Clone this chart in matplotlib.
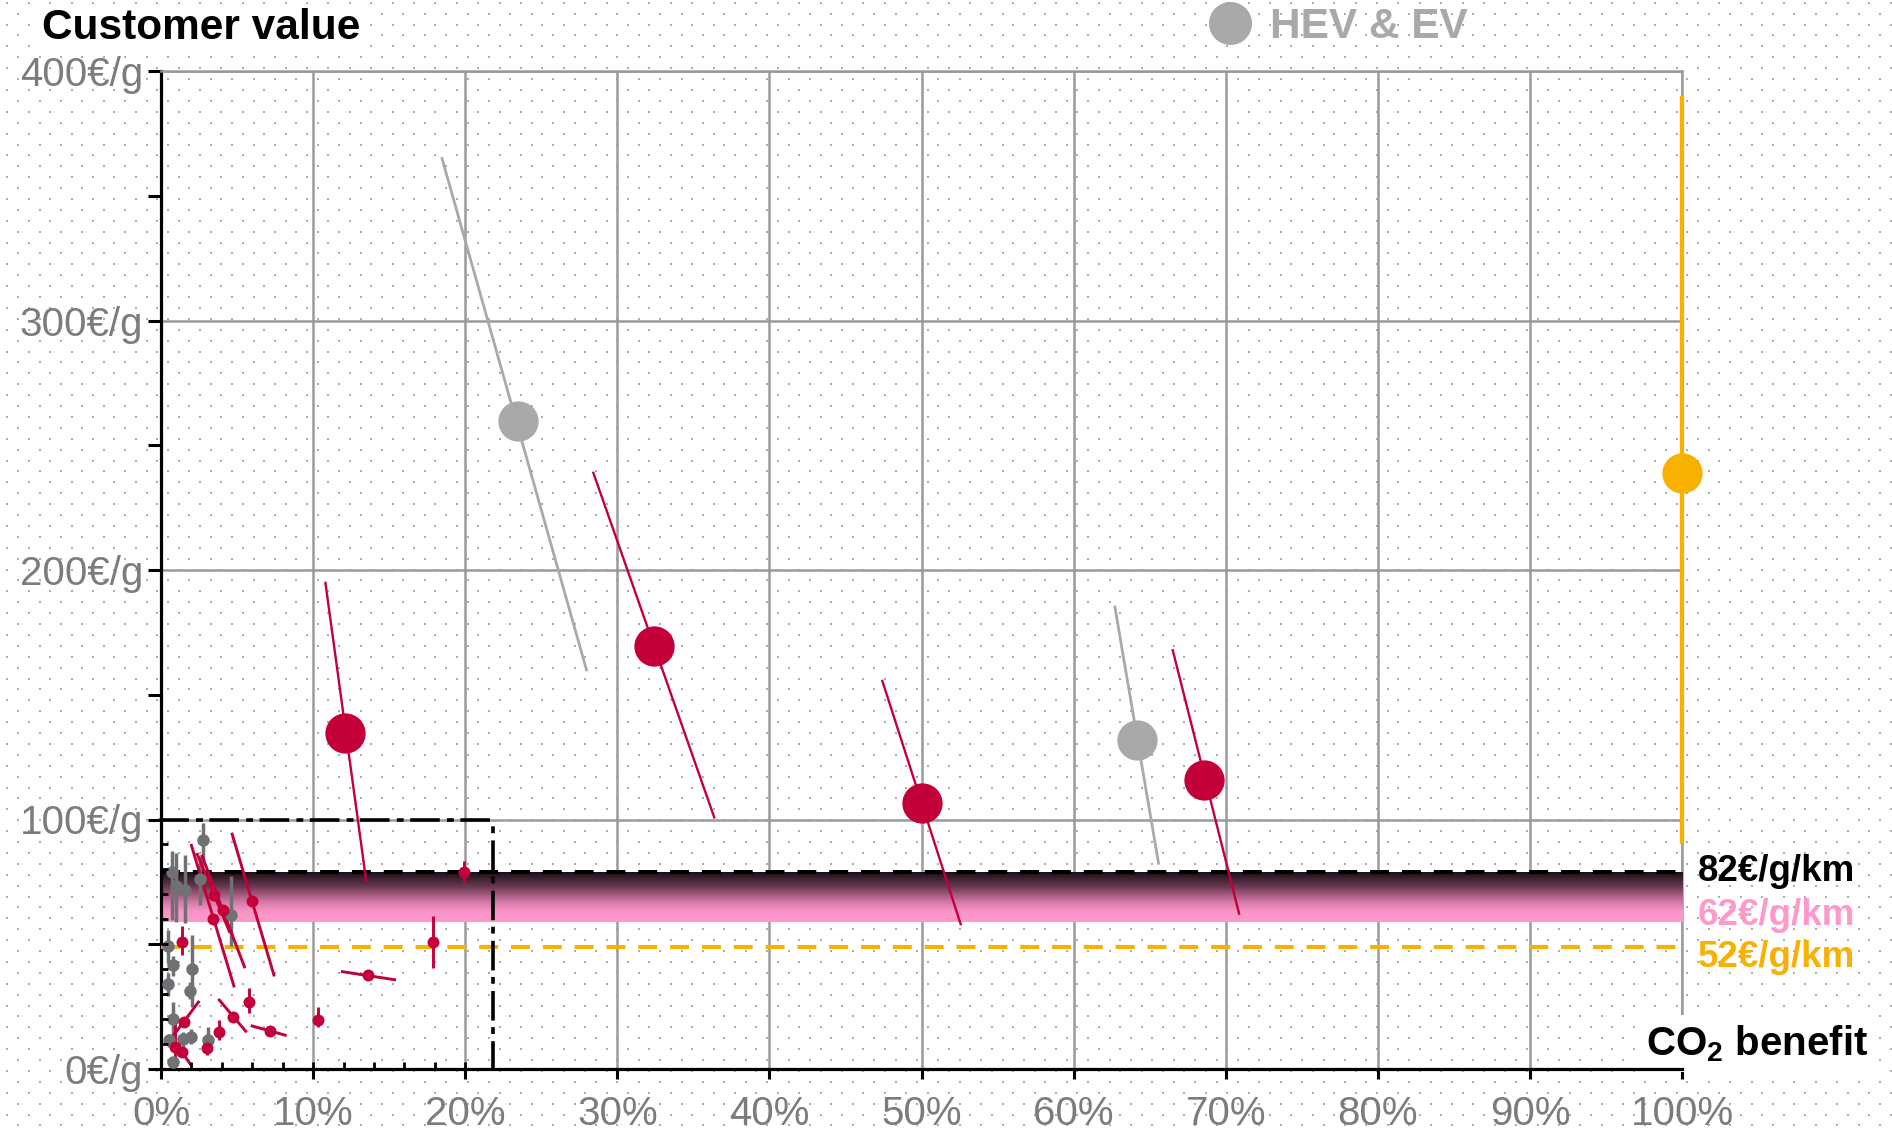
import numpy as np
import matplotlib.pyplot as plt
from matplotlib.colors import LinearSegmentedColormap
from matplotlib.lines import Line2D

plt.rcParams['font.family'] = ['Liberation Sans', 'DejaVu Sans']
plt.rcParams['mathtext.fontset'] = 'custom'
plt.rcParams['mathtext.bf'] = 'Liberation Sans:bold'
plt.rcParams['mathtext.rm'] = 'Liberation Sans:bold'

# x = CO2 benefit (%), y = customer value (EUR/g); every point has a trend segment (start, end)
red_x = [12.1, 32.4, 50.0, 68.6]
red_y = [134.5, 169.6, 106.7, 115.7]
red_from = [(10.8, 195.3), (28.4, 239.4), (47.4, 156.0), (66.5, 168.3)]
red_to = [(13.5, 75.0), (36.4, 100.4), (52.6, 57.6), (70.9, 61.8)]

gray_x = [23.5, 64.2]
gray_y = [259.7, 131.7]
gray_from = [(18.45, 365.5), (62.7, 185.7)]
gray_to = [(28.0, 159.4), (65.6, 81.9)]

orange_x = [100]
orange_y = [239]
orange_from = [(100, 390)]
orange_to = [(100, 90)]

# small points inside the zoom box
small_red_x = [19.94, 17.9, 13.63, 10.3, 5.96, 3.4, 4.1, 3.48, 4.75, 5.76, 7.17, 3.81, 3.05, 1.36, 1.53, 0.92, 1.36]
small_red_y = [79.0, 51.1, 37.5, 19.7, 67.2, 60.2, 63.9, 69.9, 20.8, 27.0, 15.4, 14.7, 8.3, 51.1, 19.0, 9.0, 7.0]
small_red_from = [(19.94, 83.5), (17.9, 61.2), (11.83, 39.1), (10.3, 25.0), (4.65, 94.7), (1.97, 90.2),
                  (2.67, 85.9), (2.35, 86.6), (3.77, 28.1), (5.76, 32.4), (5.9, 17.4), (3.81, 19.7),
                  (3.05, 11.0), (1.36, 57.2), (2.52, 27.3), (0.92, 18.4), (0.81, 11.6)]
small_red_to = [(19.94, 74.5), (17.9, 40.4), (15.45, 35.7), (10.3, 17.0), (7.45, 37.1), (4.82, 32.7),
                (5.52, 40.4), (4.54, 54.5), (5.63, 14.7), (5.76, 22.4), (8.26, 13.4), (3.81, 11.6),
                (3.05, 5.6), (1.36, 45.8), (0.59, 11.6), (0.92, 0.9), (1.97, 1.6)]

small_gray_x = [2.78, 0.7, 0.99, 1.58, 2.56, 4.6, 0.48, 0.81, 0.48, 2.06, 1.91, 0.81, 0.55, 1.47, 1.95, 3.07, 0.81]
small_gray_y = [91.6, 78.8, 73.5, 71.9, 76.2, 61.8, 49.1, 41.5, 34.0, 40.0, 31.4, 19.9, 11.6, 11.9, 13.0, 11.6, 2.9]
small_gray_from = [(2.78, 98.7), (0.7, 87.3), (0.99, 86.6), (1.58, 85.9), (2.56, 85.3), (4.6, 77.2),
                   (0.48, 55.8), (0.81, 45.1), (0.48, 38.5), (2.06, 53.8), (1.91, 35.0), (0.81, 27.0),
                   (0.55, 14.0), (1.47, 15.0), (1.95, 16.0), (3.07, 17.0), (0.81, 5.0)]
small_gray_to = [(2.78, 81.2), (0.7, 59.8), (0.99, 59.1), (1.58, 58.4), (2.56, 65.9), (4.6, 49.1),
                 (0.48, 42.4), (0.81, 37.1), (0.48, 29.1), (2.06, 25.0), (1.91, 28.0), (0.81, 11.6),
                 (0.55, 9.0), (1.47, 9.0), (1.95, 10.0), (3.07, 8.9), (0.81, 0.5)]

# reference levels
level_high = 79
level_band_low = 59
level_orange = 49
level_labels = ['82€/g/km', '62€/g/km', '52€/g/km']

x_ticks = list(range(0, 101, 10))
x_labels = [str(v) + '%' for v in x_ticks]
y_ticks = [0, 100, 200, 300, 400]
y_labels = [str(v) + '€/g' for v in y_ticks]

RED = '#c4003a'
GRAY = '#a9a9a9'
DARK_GRAY = '#6f7174'
ORANGE = '#f8b100'
PINK = '#ff99cc'
TICK_GRAY = '#7b7c7e'
GRID = '#9a9a9a'

W, H = 1892, 1130
fig = plt.figure(figsize=(W / 100, H / 100), dpi=100)
fig.patch.set_facecolor('white')

# dotted paper background
bg = fig.add_axes([0, 0, 1, 1], zorder=-1)
bg.set_xlim(0, W)
bg.set_ylim(H, 0)
bg.axis('off')
dx, dy = 21.4, 10.9
for k, yy in enumerate(np.arange(2.8, H, dy)):
    xs = np.arange(7.4 + (dx / 2 if k % 2 else 0), W, dx)
    bg.scatter(xs, np.full(len(xs), yy), s=4, marker='s', color='#acacac', linewidths=0)

ax = fig.add_axes([161 / W, 1 - 1069 / H, (1682 - 161) / W, (1069 - 71) / H])
ax.set_facecolor('none')

# gradient band between 62 and 82
cmap = LinearSegmentedColormap.from_list('band', [(0, '#1c0f16'), (0.3, '#6e3a55'), (0.6, '#d37aa6'),
                                                  (0.8, '#fb96c8'), (1, PINK)])
ax.imshow(np.linspace(0, 1, 200).reshape(-1, 1), cmap=cmap, aspect='auto', origin='upper',
          extent=[0, 100, level_band_low, level_high], zorder=1.5)
ax.axhline(level_high, color='black', lw=2.9, dashes=(4.7, 3.2), zorder=3)
ax.axhline(level_orange, color=ORANGE, lw=2.9, dashes=(4.7, 3.2), zorder=3)

for lab, lev, dy_pt, col in zip(level_labels, [level_high, level_band_low, level_orange],
                                [-6.5, -2.4, -14.8], ['black', PINK, ORANGE]):
    ax.annotate(lab, xy=(100, lev), xytext=(11.5, dy_pt), textcoords='offset points',
                va='baseline', ha='left', fontsize=26.5, fontweight='bold', color=col,
                annotation_clip=False)


def draw_series(xs, ys, starts, ends, color, ms, lw):
    for (x1, y1), (x2, y2) in zip(starts, ends):
        ax.plot([x1, x2], [y1, y2], color=color, lw=lw, solid_capstyle='butt', zorder=4, clip_on=False)
    ax.plot(xs, ys, 'o', color=color, ms=ms, mew=0, zorder=5, clip_on=False)


draw_series(small_gray_x, small_gray_y, small_gray_from, small_gray_to, DARK_GRAY, 9, 2.5)
draw_series(small_red_x, small_red_y, small_red_from, small_red_to, RED, 8.6, 2.1)
draw_series(gray_x, gray_y, gray_from, gray_to, GRAY, 29, 2.0)
draw_series(red_x, red_y, red_from, red_to, RED, 29, 1.7)
draw_series(orange_x, orange_y, orange_from, orange_to, ORANGE, 29, 3.1)

ax.set_xlim(0, 100)
ax.set_ylim(0, 400)
ax.set_xticks(x_ticks)
ax.set_xticklabels(x_labels)
ax.set_yticks(y_ticks)
ax.set_yticklabels(y_labels)
ax.set_yticks([50, 150, 250, 350], minor=True)
ax.grid(True, which='major', color=GRID, lw=1.8)
ax.set_axisbelow(True)
# gridline at 100% drawn in full (the CO2 label box hides its lower end)
ax.axvline(100, color=GRID, lw=1.8, zorder=0.6, clip_on=False)
ax.tick_params(axis='both', which='both', direction='out', color='black', width=2.2,
               labelcolor=TICK_GRAY, labelsize=29)
ax.tick_params(axis='y', which='both', length=9.5, pad=3.5)
ax.tick_params(axis='x', which='both', length=7.5, pad=11)
for side in ['left', 'bottom']:
    ax.spines[side].set_linewidth(2.3)
    ax.spines[side].set_color('black')
ax.spines['top'].set_linewidth(1.8)
ax.spines['top'].set_color(GRID)
ax.spines['right'].set_visible(False)

# zoom box in the lower left corner
ins = ax.inset_axes([0, 0, 21.8, 100], transform=ax.transData)
ins.set_facecolor('none')
ins.set_xlim(0, 21.8)
ins.set_ylim(0, 100)
ins.set_xticks(np.arange(2, 21, 2))
ins.set_yticks(np.arange(10, 100, 10))
ins.tick_params(direction='in', length=5, width=2, color='black', labelbottom=False, labelleft=False)
ins.spines['left'].set_visible(False)
ins.spines['bottom'].set_visible(False)
for side in ['top', 'right']:
    ins.spines[side].set_linewidth(2.6)
    ins.spines[side].set_linestyle((0, (7.2, 3.0, 0.9, 2.8)))
    ins.spines[side].set_color('black')

fig.text(42 / W, 1 - 39 / H, 'Customer value', fontsize=30.5, fontweight='bold', va='baseline',
         bbox=dict(facecolor='white', edgecolor='none', pad=2))
# CO2 label sits above the gridlines but below the axis line
ax.text(1868 / W, 1 - 1055 / H, r'CO$_\mathbf{2}$ benefit', transform=fig.transFigure, fontsize=29,
        fontweight='bold', ha='right', va='baseline', zorder=2.2,
        bbox=dict(facecolor='white', edgecolor='none', pad=6))

fig.legend(handles=[Line2D([], [], ls='', marker='o', ms=31, mew=0, color=GRAY)], labels=['HEV & EV'],
           loc='center left', bbox_to_anchor=(1209 / W, 1 - 27 / H), frameon=False, borderpad=0,
           borderaxespad=0, handlelength=1.0, handletextpad=0.45,
           prop=dict(weight='bold', size=30.5), labelcolor=GRAY)

fig.savefig('out.png', dpi=100)
